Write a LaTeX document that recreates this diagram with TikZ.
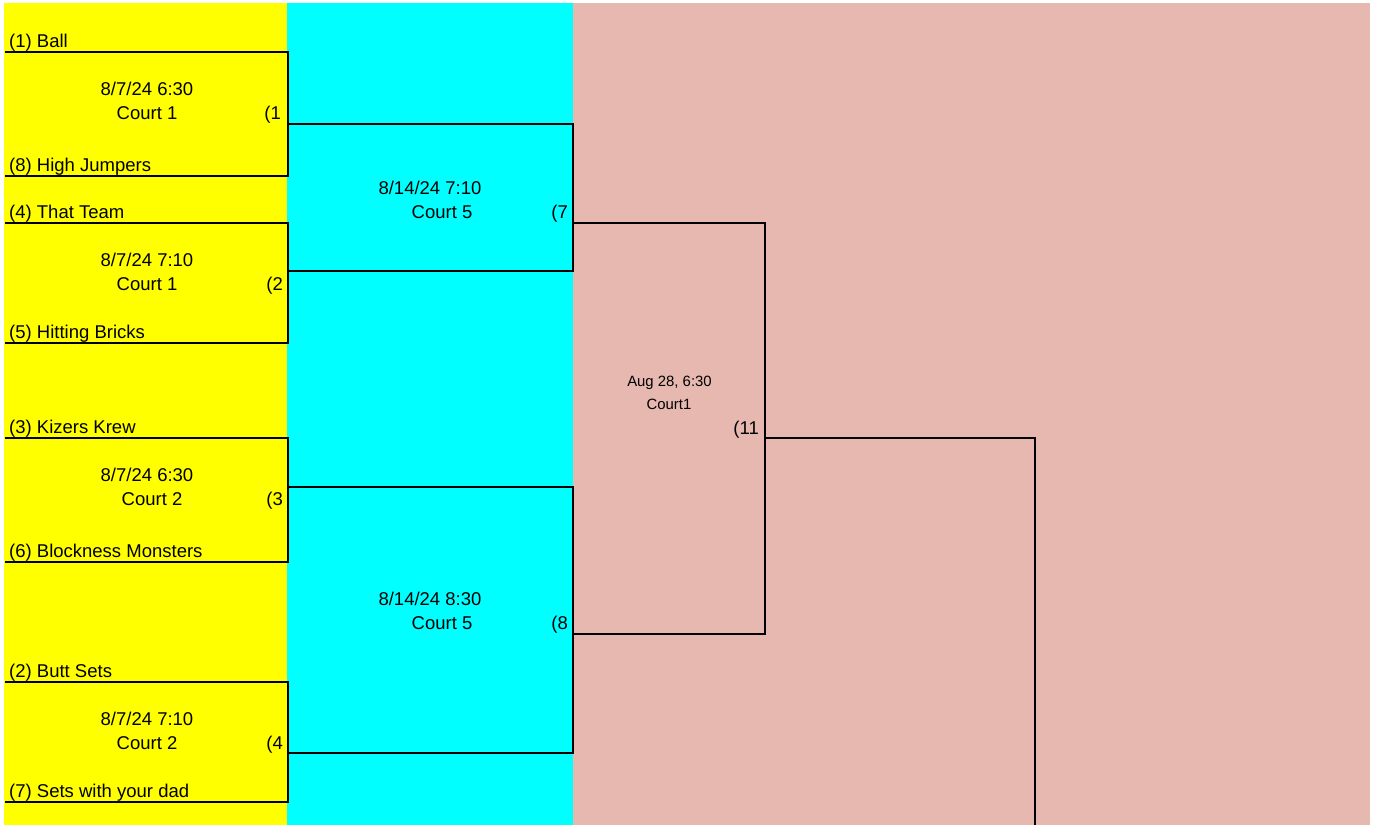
\documentclass[tikz,border=0pt]{standalone}
\usepackage{fontspec}
\setmainfont{Liberation Sans}
\definecolor{weekA}{HTML}{FFFF00}
\definecolor{weekB}{HTML}{00FFFF}
\definecolor{weekC}{HTML}{E6B8AF}

\begin{document}
\begin{tikzpicture}[x=1pt, y=-1pt,
  team/.style={anchor=base west, inner sep=0pt},
  info/.style={anchor=base, inner sep=0pt},
  seed/.style={anchor=base east, inner sep=0pt},
  small/.style={font=\fontsize{14.9}{17}\selectfont},
  bracket/.style={line width=1.1pt}]

  \fontsize{18.5}{22}\selectfont

  \useasboundingbox (0,0) rectangle (1373,825);
  \fill[weekA] (4,3) rectangle (287,825);
  \fill[weekB] (287,3) rectangle (573,825);
  \fill[weekC] (573,3) rectangle (1370,825);

  %% round 1
  \coordinate (a1) at (5,52);   \coordinate (a1r) at (288,52);
  \coordinate (b1) at (5,176);  \coordinate (b1r) at (288,176);
  \coordinate (a2) at (5,223);  \coordinate (a2r) at (288,223);
  \coordinate (b2) at (5,343);  \coordinate (b2r) at (288,343);
  \coordinate (a3) at (5,438);  \coordinate (a3r) at (288,438);
  \coordinate (b3) at (5,562);  \coordinate (b3r) at (288,562);
  \coordinate (a4) at (5,682);  \coordinate (a4r) at (288,682);
  \coordinate (b4) at (5,802);  \coordinate (b4r) at (288,802);

  \node[team] (ball)    at (9,47.5)  {(1) Ball};
  \node[team] (jumpers) at (9,171.5) {(8) High Jumpers};
  \node[team] (thatt)   at (9,218.5) {(4) That Team};
  \node[team] (bricks)  at (9,338.5) {(5) Hitting Bricks};
  \node[team] (kizers)  at (9,433.5) {(3) Kizers Krew};
  \node[team] (monst)   at (9,557.5) {(6) Blockness Monsters};
  \node[team] (butt)    at (9,677.5) {(2) Butt Sets};
  \node[team] (dad)     at (9,797.5) {(7) Sets with your dad};

  \draw[bracket] (a1) -- (a1r) -- (b1r) -- (b1); %% 1 v 8
  \draw[bracket] (a2) -- (a2r) -- (b2r) -- (b2); %% 4 v 5
  \draw[bracket] (a3) -- (a3r) -- (b3r) -- (b3); %% 3 v 6
  \draw[bracket] (a4) -- (a4r) -- (b4r) -- (b4); %% 2 v 7

  \node[info] (d1) at (147,95.5)  {8/7/24 6:30};
  \node[info] (c1) at (147,119)   {Court 1};
  \node[seed] (g1) at (281,119)   {(1};
  \node[info] (d2) at (147,266.5) {8/7/24 7:10};
  \node[info] (c2) at (147,290)   {Court 1};
  \node[seed] (g2) at (283,290)   {(2};
  \node[info] (d3) at (147,481.5) {8/7/24 6:30};
  \node[info] (c3) at (152,505)   {Court 2};
  \node[seed] (g3) at (283,505)   {(3};
  \node[info] (d4) at (147,725.5) {8/7/24 7:10};
  \node[info] (c4) at (147,749)   {Court 2};
  \node[seed] (g4) at (283,749)   {(4};

  %% round 2
  \coordinate (w1) at (288,124); \coordinate (w1r) at (573,124);
  \coordinate (w2) at (288,271); \coordinate (w2r) at (573,271);
  \coordinate (w3) at (288,487); \coordinate (w3r) at (573,487);
  \coordinate (w4) at (288,753); \coordinate (w4r) at (573,753);

  \draw[bracket] (w1) -- (w1r) -- (w2r) -- (w2); %% 1 v 2
  \draw[bracket] (w3) -- (w3r) -- (w4r) -- (w4); %% 3 v 4

  \node[info] (d7) at (430,194) {8/14/24 7:10};
  \node[info] (c7) at (442,218) {Court 5};
  \node[seed] (g7) at (568,218) {(7};
  \node[info] (d8) at (430,605) {8/14/24 8:30};
  \node[info] (c8) at (442,629) {Court 5};
  \node[seed] (g8) at (568,629) {(8};

  %% round 3
  \coordinate (s1) at (573,223); \coordinate (s1r) at (765,223);
  \coordinate (s2) at (573,634); \coordinate (s2r) at (765,634);

  \draw[bracket] (s1) -- (s1r) -- (s2r) -- (s2); %% 7 v 8

  \node[info, small] (d11) at (669.5,386) {Aug 28, 6:30};
  \node[info, small] (c11) at (669,409)   {Court1};
  \node[seed] (g11) at (759,434) {(11};

  %% final
  \coordinate (f1) at (765,438); \coordinate (f1r) at (1035,438);
  \coordinate (f2) at (1035,825);

  \draw[bracket] (f1) -- (f1r) -- (f2);
\end{tikzpicture}
\end{document}
